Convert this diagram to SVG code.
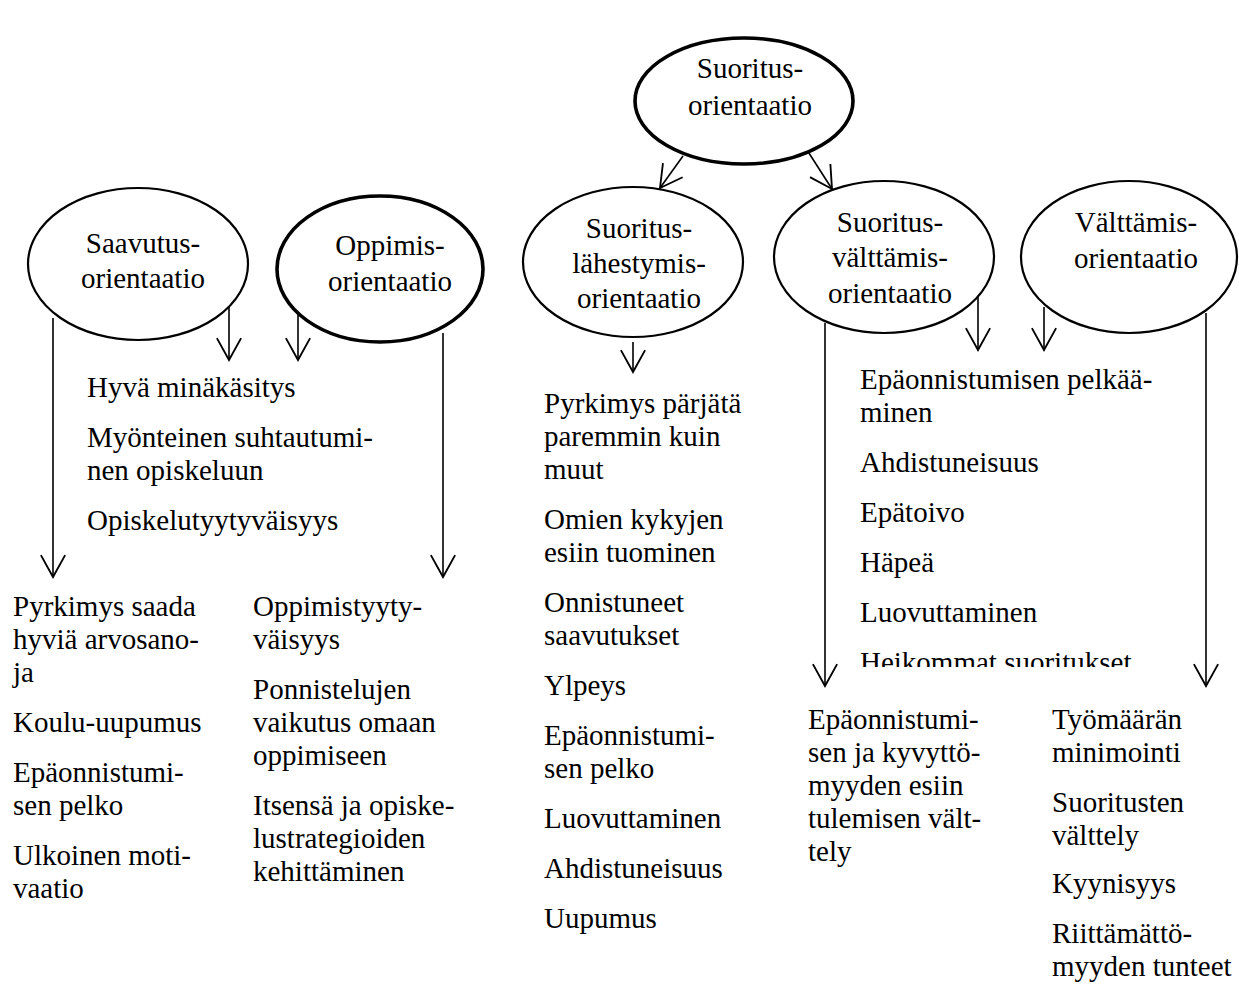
<svg xmlns="http://www.w3.org/2000/svg" width="1239" height="985" viewBox="0 0 1239 985">
<style>
  text { font-family: 'Liberation Serif', Tinos, 'DejaVu Serif', serif; font-size: 29px; fill: #000; }
  .c { text-anchor: middle; }
  .el { fill: #fff; stroke: #000; stroke-width: 2.2; }
  .thick { stroke-width: 3.6; }
  .ln { stroke: #000; stroke-width: 1.6; fill: none; marker-end: url(#arr); }
</style>
<defs>
  <marker id="arr" markerUnits="userSpaceOnUse" markerWidth="30" markerHeight="30" viewBox="-22 -12 26 24" refX="0" refY="0" orient="auto">
    <path d="M-19,-10.5 L0,0 L-19,10.5" fill="none" stroke="#000" stroke-width="1.6"/>
  </marker>
  <clipPath id="clipH"><rect x="850" y="640" width="300" height="27"/></clipPath>
</defs>
<rect width="1239" height="985" fill="#fff"/>

<g id="connectors">
  <line class="ln" x1="683" y1="156" x2="660" y2="188"/>
  <line class="ln" x1="807" y1="150" x2="832" y2="189"/>
  <line class="ln" x1="53" y1="318" x2="53" y2="577"/>
  <line class="ln" x1="229" y1="307" x2="229" y2="360"/>
  <line class="ln" x1="298" y1="312" x2="298" y2="360"/>
  <line class="ln" x1="443" y1="333" x2="443" y2="577"/>
  <line class="ln" x1="633" y1="342" x2="633" y2="372"/>
  <line class="ln" x1="825" y1="323" x2="825" y2="686"/>
  <line class="ln" x1="978" y1="297" x2="978" y2="350"/>
  <line class="ln" x1="1044" y1="307" x2="1044" y2="350"/>
  <line class="ln" x1="1206" y1="313" x2="1206" y2="686"/>
</g>

<g id="suoritusorientaatio">
  <ellipse class="el thick" cx="744" cy="101" rx="109" ry="63"/>
  <text class="c" x="750" y="78">Suoritus-</text>
  <text class="c" x="750" y="115">orientaatio</text>
</g>

<g id="saavutusorientaatio">
  <ellipse class="el" cx="138" cy="264" rx="110" ry="76"/>
  <text class="c" x="143" y="253">Saavutus-</text>
  <text class="c" x="143" y="288">orientaatio</text>
</g>

<g id="oppimisorientaatio">
  <ellipse class="el thick" cx="380" cy="269" rx="103" ry="73"/>
  <text class="c" x="390" y="255">Oppimis-</text>
  <text class="c" x="390" y="291">orientaatio</text>
</g>

<g id="suoritus-lahestymisorientaatio">
  <ellipse class="el" cx="633" cy="262" rx="110" ry="75"/>
  <text class="c" x="639" y="238">Suoritus-</text>
  <text class="c" x="639" y="273">lähestymis-</text>
  <text class="c" x="639" y="308">orientaatio</text>
</g>

<g id="suoritus-valttamisorientaatio">
  <ellipse class="el" cx="884" cy="257" rx="110" ry="76"/>
  <text class="c" x="890" y="232">Suoritus-</text>
  <text class="c" x="890" y="267">välttämis-</text>
  <text class="c" x="890" y="303">orientaatio</text>
</g>

<g id="valttamisorientaatio">
  <ellipse class="el" cx="1129" cy="257" rx="108" ry="76"/>
  <text class="c" x="1136" y="232">Välttämis-</text>
  <text class="c" x="1136" y="268">orientaatio</text>
</g>

<g id="yhteiset-saavutus-oppimis">
  <text x="87" y="397">Hyvä minäkäsitys</text>
  <text x="87" y="447">Myönteinen suhtautumi-</text>
  <text x="87" y="480">nen opiskeluun</text>
  <text x="87" y="530">Opiskelutyytyväisyys</text>
</g>

<g id="saavutus-piirteet">
  <text x="13" y="616">Pyrkimys saada</text>
  <text x="13" y="649">hyviä arvosano-</text>
  <text x="13" y="682">ja</text>
  <text x="13" y="732">Koulu-uupumus</text>
  <text x="13" y="782">Epäonnistumi-</text>
  <text x="13" y="815">sen pelko</text>
  <text x="13" y="865">Ulkoinen moti-</text>
  <text x="13" y="898">vaatio</text>
</g>

<g id="oppimis-piirteet">
  <text x="253" y="616">Oppimistyyty-</text>
  <text x="253" y="649">väisyys</text>
  <text x="253" y="699">Ponnistelujen</text>
  <text x="253" y="732">vaikutus omaan</text>
  <text x="253" y="765">oppimiseen</text>
  <text x="253" y="815">Itsensä ja opiske-</text>
  <text x="253" y="848">lustrategioiden</text>
  <text x="253" y="881">kehittäminen</text>
</g>

<g id="lahestymis-piirteet">
  <text x="544" y="413">Pyrkimys pärjätä</text>
  <text x="544" y="446">paremmin kuin</text>
  <text x="544" y="479">muut</text>
  <text x="544" y="529">Omien kykyjen</text>
  <text x="544" y="562">esiin tuominen</text>
  <text x="544" y="612">Onnistuneet</text>
  <text x="544" y="645">saavutukset</text>
  <text x="544" y="695">Ylpeys</text>
  <text x="544" y="745">Epäonnistumi-</text>
  <text x="544" y="778">sen pelko</text>
  <text x="544" y="828">Luovuttaminen</text>
  <text x="544" y="878">Ahdistuneisuus</text>
  <text x="544" y="928">Uupumus</text>
</g>

<g id="yhteiset-valttamis">
  <text x="860" y="389">Epäonnistumisen pelkää-</text>
  <text x="860" y="422">minen</text>
  <text x="860" y="472">Ahdistuneisuus</text>
  <text x="860" y="522">Epätoivo</text>
  <text x="860" y="572">Häpeä</text>
  <text x="860" y="622">Luovuttaminen</text>
  <text x="860" y="672" clip-path="url(#clipH)">Heikommat suoritukset</text>
</g>

<g id="suoritus-valttamis-piirteet">
  <text x="808" y="729">Epäonnistumi-</text>
  <text x="808" y="762">sen ja kyvyttö-</text>
  <text x="808" y="795">myyden esiin</text>
  <text x="808" y="828">tulemisen vält-</text>
  <text x="808" y="861">tely</text>
</g>

<g id="valttamis-piirteet">
  <text x="1052" y="729">Työmäärän</text>
  <text x="1052" y="762">minimointi</text>
  <text x="1052" y="812">Suoritusten</text>
  <text x="1052" y="845">välttely</text>
  <text x="1052" y="893">Kyynisyys</text>
  <text x="1052" y="943">Riittämättö-</text>
  <text x="1052" y="976">myyden tunteet</text>
</g>
</svg>
